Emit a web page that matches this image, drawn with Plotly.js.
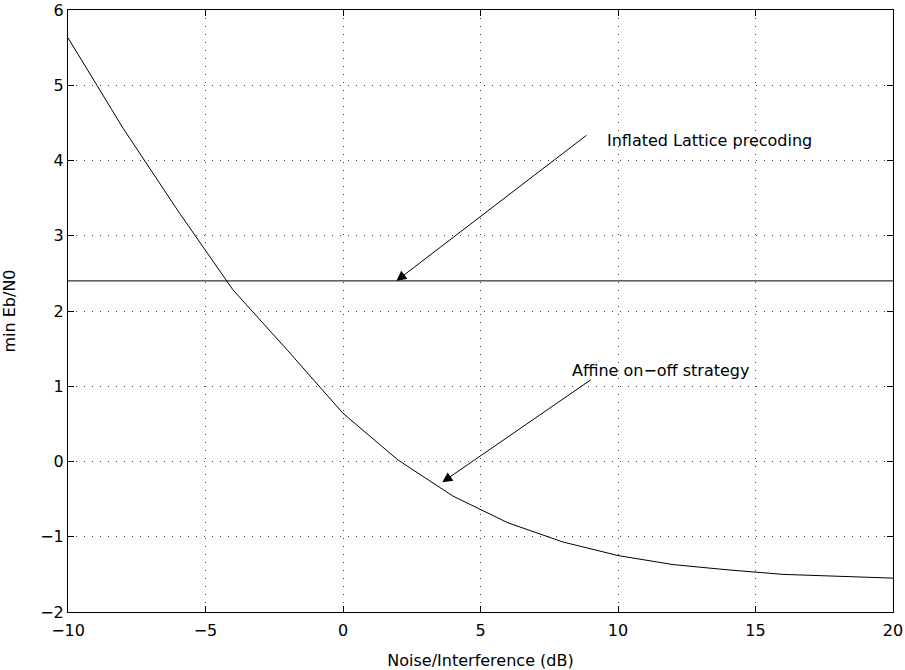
<!DOCTYPE html>
<html><head><meta charset="utf-8">
<script src="https://cdn.plot.ly/plotly-3.0.1.min.js"></script>
<style>html,body{margin:0;padding:0;background:#fff}</style>
</head><body><div id="chart" style="width:905px;height:670px"></div>
<script>
const noiseDb = [-10, -8, -6, -4, -2, 0, 2, 4, 6, 8, 10, 12, 14, 16, 18, 20];
const affineEbN0 = [5.63, 4.43, 3.33, 2.28, 1.47, 0.64, 0.02, -0.46, -0.815, -1.07, -1.25, -1.37, -1.44, -1.50, -1.525, -1.55];
const latticeX = [-10, 20];
const latticeEbN0 = [2.4, 2.4];
const xTicks = [-10, -5, 0, 5, 10, 15, 20];
const yTicks = [-2, -1, 0, 1, 2, 3, 4, 5, 6];
const tickText = v => (v < 0 ? '\u2212' + Math.abs(v) : String(v));

const font = {family: 'DejaVu Sans, Liberation Sans, Arial, sans-serif', color: '#000'};
const fs = 16;
const axisCommon = {
  showline: true, linecolor: '#000', linewidth: 1, mirror: 'ticks',
  ticks: 'inside', ticklen: 6, tickcolor: '#000',
  showgrid: true, gridcolor: '#444', griddash: '1px,7px', gridwidth: 1,
  zeroline: false, tickfont: Object.assign({size: fs}, font)
};
const data = [
  {x: noiseDb, y: affineEbN0, mode: 'lines', line: {color: '#000', width: 1}, showlegend: false},
  {x: latticeX, y: latticeEbN0, mode: 'lines', line: {color: '#000', width: 1}, showlegend: false}
];
const layout = {
  width: 905, height: 670,
  margin: {l: 68, r: 12, t: 10, b: 58},
  paper_bgcolor: '#fff', plot_bgcolor: '#fff',
  font: font,
  xaxis: Object.assign({}, axisCommon, {
    range: [-10, 20], tickvals: xTicks, ticktext: xTicks.map(tickText),
    ticklabelstandoff: 4,
    title: {text: 'Noise/Interference (dB)', font: Object.assign({size: fs}, font), standoff: 16}
  }),
  yaxis: Object.assign({}, axisCommon, {
    range: [-2, 6], tickvals: yTicks, ticktext: yTicks.map(tickText),
    title: {text: 'min Eb/N0', font: Object.assign({size: fs}, font), standoff: 22}
  }),
  annotations: [
    {x: 1.94, y: 2.40, ax: 8.91, ay: 4.35, xref: 'x', yref: 'y', axref: 'x', ayref: 'y',
     text: '', showarrow: true, arrowhead: 2, arrowsize: 2, arrowwidth: 1, arrowcolor: '#000'},
    {x: 9.52, y: 4.27, xref: 'x', yref: 'y', xanchor: 'left', yanchor: 'middle',
     text: 'Inflated Lattice precoding', showarrow: false, font: Object.assign({size: fs}, font)},
    {x: 3.61, y: -0.275, ax: 9.07, ay: 1.10, xref: 'x', yref: 'y', axref: 'x', ayref: 'y',
     text: '', showarrow: true, arrowhead: 2, arrowsize: 2, arrowwidth: 1, arrowcolor: '#000'},
    {x: 8.27, y: 1.21, xref: 'x', yref: 'y', xanchor: 'left', yanchor: 'middle',
     text: 'Affine on\u2212off strategy', showarrow: false, font: Object.assign({size: fs}, font)}
  ]
};
Plotly.newPlot('chart', data, layout, {displayModeBar: false, staticPlot: true});
</script></body></html>
